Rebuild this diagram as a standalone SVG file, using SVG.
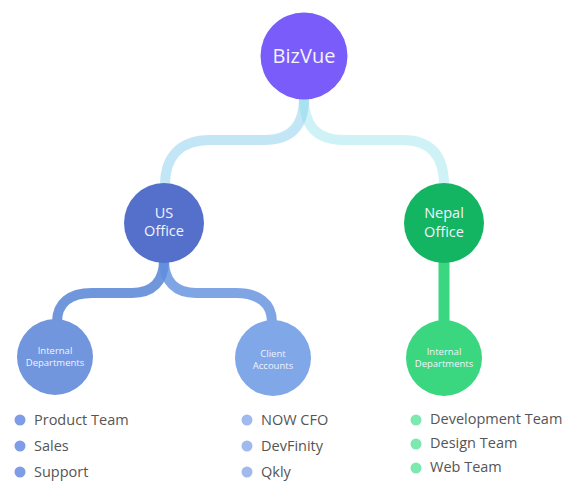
<svg xmlns="http://www.w3.org/2000/svg" width="580" height="500" viewBox="0 0 580 500">
<style>
.c{fill:none;stroke-width:10}
.t{font-family:"Open Sans","Liberation Sans",sans-serif;fill:#f2f3ff;text-anchor:middle}
.l{font-family:"Open Sans","Liberation Sans",sans-serif;fill:#555;font-size:14.5px}
</style>
<rect width="580" height="500" fill="#fff"/>
<g id="connectors">
<path class="c" stroke="#5bbbe6" stroke-opacity="0.37" d="M304,98 C304,125 292,140 264,140 L210,140 C182,140 165,155 165,185"/>
<path class="c" stroke="#7adbe6" stroke-opacity="0.37" d="M304,98 C304,125 316,140 344,140 L403,140 C430,140 444,155 444,185"/>
<path class="c" stroke="#4c7cd3" stroke-opacity="0.8" d="M164,260 C164,282 152,293 132,293 L92,293 C70,293 57,303 57,322"/>
<path class="c" stroke="#5f8ede" stroke-opacity="0.8" d="M164,260 C164,282 176,293 196,293 L236,293 C258,293 272,303 272,322"/>
<path fill="none" stroke="#3bd680" stroke-width="11" d="M444,260 L444,322"/>
</g>
<g id="bizvue"><circle cx="304" cy="56" r="43.5" fill="#7a5cfa"/><text class="t" x="304" y="63" font-size="20">BizVue</text></g>
<g id="us-office"><circle cx="164" cy="223" r="40" fill="#5470cb"/><text class="t" x="164" y="218" font-size="14.5">US</text><text class="t" x="164" y="236" font-size="14.5">Office</text></g>
<g id="nepal-office"><circle cx="444" cy="223" r="40" fill="#13b562"/><text class="t" x="444" y="218" font-size="14.5">Nepal</text><text class="t" x="444" y="237" font-size="14.5">Office</text></g>
<g id="us-internal"><circle cx="55" cy="357" r="38" fill="#7196dd"/><text class="t" x="55" y="354" font-size="9.5">Internal</text><text class="t" x="55" y="366" font-size="9.5">Departments</text></g>
<g id="client-accounts"><circle cx="273" cy="358" r="38" fill="#80a7e8"/><text class="t" x="273" y="357" font-size="9.5">Client</text><text class="t" x="273" y="369" font-size="9.5">Accounts</text></g>
<g id="nepal-internal"><circle cx="444" cy="358" r="38" fill="#3bd680"/><text class="t" x="444" y="355" font-size="9.5">Internal</text><text class="t" x="444" y="367" font-size="9.5">Departments</text></g>
<g id="list-us-internal" fill="#7f9de6">
<circle cx="20" cy="420" r="5.5"/><circle cx="20" cy="446" r="5.5"/><circle cx="20" cy="472" r="5.5"/>
<text class="l" x="34" y="425">Product Team</text><text class="l" x="34" y="451">Sales</text><text class="l" x="34" y="477">Support</text>
</g>
<g id="list-client" fill="#a0baf0">
<circle cx="247" cy="420" r="5.5"/><circle cx="247" cy="446" r="5.5"/><circle cx="247" cy="472" r="5.5"/>
<text class="l" x="261" y="425">NOW CFO</text><text class="l" x="261" y="451">DevFinity</text><text class="l" x="261" y="477">Qkly</text>
</g>
<g id="list-nepal" fill="#7de8b0">
<circle cx="416" cy="420" r="5.5"/><circle cx="416" cy="444" r="5.5"/><circle cx="416" cy="468" r="5.5"/>
<text class="l" x="430" y="424">Development Team</text><text class="l" x="430" y="448">Design Team</text><text class="l" x="430" y="472">Web Team</text>
</g>
</svg>
